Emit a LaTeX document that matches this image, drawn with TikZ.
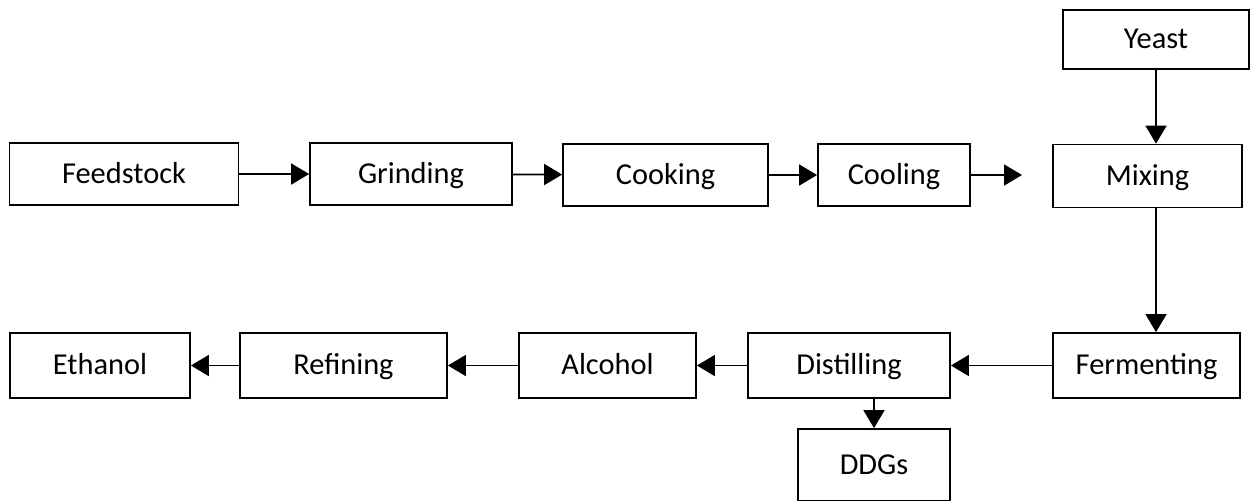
\documentclass[tikz,border=0pt]{standalone}
\usepackage{fontspec}
\setmainfont{Carlito}
\usetikzlibrary{arrows.meta,positioning}

\begin{document}
\begin{tikzpicture}[x=0.5pt,y=-0.5pt,>={Triangle[length=9pt,width=10.5pt]},
  box/.style={draw,line width=0.9pt,inner sep=0pt,text height=9.4pt,text depth=0pt,
    font=\fontsize{15.2}{18}\selectfont},
  flow/.style={->,line width=0.9pt}]
\useasboundingbox (0,0) rectangle (1251,500);
% top row
\node[box,minimum width=114.5pt,minimum height=31pt] (feed) at (124,174) {Feedstock};
\node[box,minimum width=101pt,minimum height=31pt] (grind) at (411,174) {Grinding};
\node[box,minimum width=102.5pt,minimum height=31pt] (cook) at (665.5,175) {Cooking};
\node[box,minimum width=76pt,minimum height=31pt] (cool) at (894,175) {Cooling};
\node[box,minimum width=94.5pt,minimum height=31.5pt] (mix) at (1147.5,176) {Mixing};
\node[box,minimum width=93pt,minimum height=29.5pt] (yeast) at (1156,39.5) {Yeast};
\coordinate (mixin) at (1022,175);
% bottom row
\node[box,minimum width=93.5pt,minimum height=32.5pt] (ferm) at (1146.5,365.5) {Fermenting};
\node[box,minimum width=101pt,minimum height=32.5pt] (dist) at (849,365.5) {Distilling};
\node[box,minimum width=88.5pt,minimum height=32.5pt] (alc) at (607.5,365.5) {Alcohol};
\node[box,minimum width=103.5pt,minimum height=32.5pt] (ref) at (343.5,365.5) {Refining};
\node[box,minimum width=90pt,minimum height=32.5pt] (eth) at (100,365.5) {Ethanol};
\node[box,minimum width=76pt,minimum height=36pt] (ddg) at (874,465) {DDGs};
% arrows
\foreach \a/\b in {feed/grind,grind/cook,cook/cool,ferm/dist,dist/alc,alc/ref,ref/eth}
  \draw[flow] (\a) -- (\b);
\draw[flow] (cool) -- (mixin);
\draw[flow] (yeast.south) -- (yeast.south |- mix.north);
\draw[flow] (mix.south -| yeast.south) -- (ferm.north -| yeast.south);
\draw[flow] (dist.south -| ddg.north) -- (ddg.north);
\end{tikzpicture}
\end{document}
